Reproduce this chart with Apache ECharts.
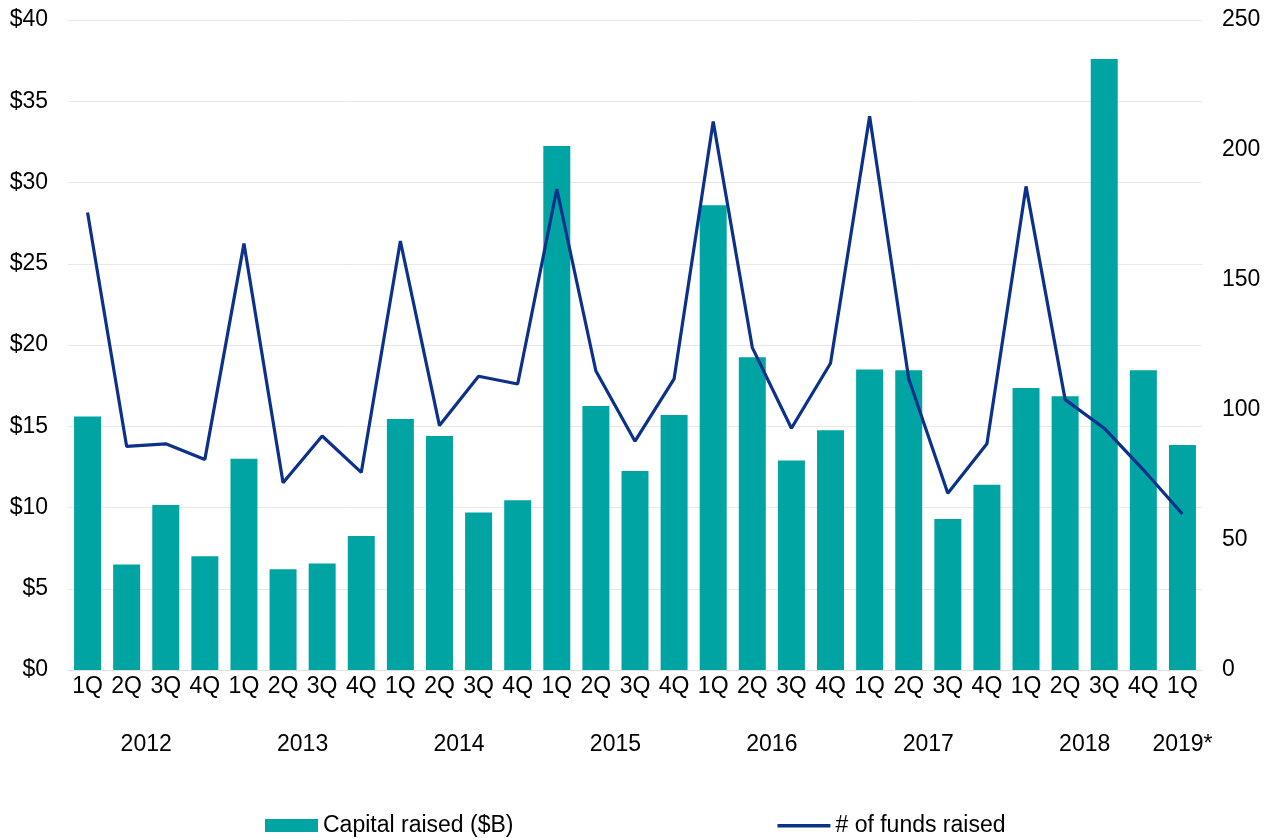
<!DOCTYPE html>
<html style="height: 100%">
<head>
    <meta charset="utf-8">
</head>
<body style="height: 100%; margin: 0; background: #fff">
    <div id="container" style="width: 1279px; height: 839px"></div>
    <script type="text/javascript" src="https://cdn.jsdelivr.net/npm/echarts@6/dist/echarts.min.js"></script>
    <script type="text/javascript">
        // data
        var quarters = ['1Q', '2Q', '3Q', '4Q', '1Q', '2Q', '3Q', '4Q', '1Q', '2Q', '3Q', '4Q',
            '1Q', '2Q', '3Q', '4Q', '1Q', '2Q', '3Q', '4Q', '1Q', '2Q', '3Q', '4Q',
            '1Q', '2Q', '3Q', '4Q', '1Q'];
        var years = ['2012', '2013', '2014', '2015', '2016', '2017', '2018', '2019*'];
        var quartersPerYear = [4, 4, 4, 4, 4, 4, 4, 1];
        var capitalRaised = [15.6, 6.5, 10.15, 7.0, 13.0, 6.2, 6.55, 8.25, 15.45, 14.4, 9.7, 10.45,
            32.25, 16.25, 12.25, 15.7, 28.6, 19.25, 12.9, 14.75, 18.5, 18.45, 9.3, 11.4,
            17.35, 16.85, 37.6, 18.45, 13.85];
        var fundsRaised = [176, 86, 87, 81, 164, 72, 90, 76, 165, 94, 113, 110,
            185, 115, 88, 112, 211, 124, 93, 118, 213, 112, 68, 87,
            186, 104, 93, 77, 60];

        // year labels sit centred under their quarters, on a half-step axis
        var yearSlots = [];
        for (var k = 0; k < quarters.length * 2 + 1; k++) yearSlots.push('');
        var start = 0;
        years.forEach(function (y, i) {
            var end = start + quartersPerYear[i] - 1;
            yearSlots[start + end + 1] = y;
            start = end + 1;
        });

        var font = 'Liberation Sans, Arial, sans-serif';
        var fs = 23;
        var teal = '#00a4a2';
        var navy = '#0c318a';
        var dom = document.getElementById('container');
        var myChart = echarts.init(dom);
        var option = {
            animation: false,
            textStyle: { fontFamily: font },
            grid: { left: 68, right: 77, top: 20, bottom: 169 },
            legend: {
                top: 809,
                left: 260,
                itemWidth: 53,
                itemHeight: 13,
                itemGap: 264,
                textStyle: { fontSize: fs, color: '#000', fontFamily: font },
                data: [
                    { name: 'Capital raised ($B)', icon: 'rect' },
                    // thin bar with invisible specks top and bottom so it is not stretched
                    { name: '# of funds raised', icon: 'path://M0,0H0.01V0.01H0Z M0,5H53V8.5H0Z M0,13H0.01V13.01H0Z' }
                ]
            },
            xAxis: [{
                type: 'category',
                data: quarters,
                axisLine: { lineStyle: { color: '#e2e2e2' } },
                axisTick: { show: false },
                axisLabel: { interval: 0, color: '#000', fontSize: fs, margin: 5 }
            }, {
                type: 'category',
                data: yearSlots,
                boundaryGap: false,
                position: 'bottom',
                offset: 58,
                axisLine: { show: false },
                axisTick: { show: false },
                axisLabel: { interval: 0, color: '#000', fontSize: fs, margin: 5 }
            }],
            yAxis: [{
                type: 'value',
                min: 0,
                max: 40,
                interval: 5,
                axisLine: { show: false },
                axisTick: { show: false },
                axisLabel: { color: '#000', fontSize: fs, margin: 20, formatter: '${value}' },
                splitLine: { lineStyle: { color: '#e8e8e8' } }
            }, {
                type: 'value',
                min: 0,
                max: 250,
                interval: 50,
                axisLine: { show: false },
                axisTick: { show: false },
                axisLabel: { color: '#000', fontSize: fs, margin: 20 },
                splitLine: { show: false }
            }],
            series: [{
                name: 'Capital raised ($B)',
                type: 'bar',
                data: capitalRaised,
                barCategoryGap: '31%',
                itemStyle: { color: teal }
            }, {
                name: '# of funds raised',
                type: 'line',
                yAxisIndex: 1,
                data: fundsRaised,
                symbol: 'none',
                lineStyle: { color: navy, width: 3.2 },
                itemStyle: { color: navy }
            }]
        };
        myChart.setOption(option, true);
    </script>
</body>
</html>
